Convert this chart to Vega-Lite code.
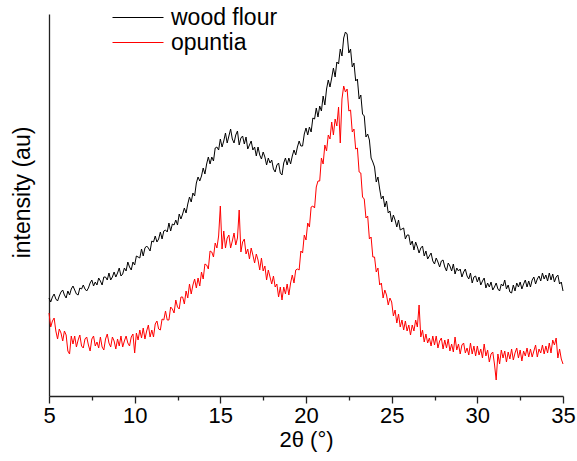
{
"$schema": "https://vega.github.io/schema/vega-lite/v6.json",
"width": 514, "height": 382,
"autosize": {"type": "none"},
"padding": {"left": 49, "top": 14, "right": 14, "bottom": 65},
"background": "white",
"config": {"view": {"stroke": null}, "font": "Liberation Sans"},
"data": {"values": [
{"t":5.0,"wood flour":98,"opuntia":83},{"t":5.1,"wood flour":94,"opuntia":69},{"t":5.2,"wood flour":99,"opuntia":75},{"t":5.3,"wood flour":102,"opuntia":78},{"t":5.4,"wood flour":97,"opuntia":65},{"t":5.5,"wood flour":95,"opuntia":57},{"t":5.6,"wood flour":100,"opuntia":67},{"t":5.7,"wood flour":104,"opuntia":63},{"t":5.8,"wood flour":106,"opuntia":55},{"t":5.9,"wood flour":101,"opuntia":65},
{"t":6.0,"wood flour":98,"opuntia":61},{"t":6.1,"wood flour":105,"opuntia":45},{"t":6.2,"wood flour":101,"opuntia":42},{"t":6.3,"wood flour":107,"opuntia":60},{"t":6.4,"wood flour":110,"opuntia":52},{"t":6.5,"wood flour":106,"opuntia":60},{"t":6.6,"wood flour":102,"opuntia":49},{"t":6.7,"wood flour":101,"opuntia":56},{"t":6.8,"wood flour":108,"opuntia":61},{"t":6.9,"wood flour":107,"opuntia":50},
{"t":7.0,"wood flour":111,"opuntia":48},{"t":7.1,"wood flour":107,"opuntia":57},{"t":7.2,"wood flour":105,"opuntia":59},{"t":7.3,"wood flour":108,"opuntia":51},{"t":7.4,"wood flour":113,"opuntia":45},{"t":7.5,"wood flour":116,"opuntia":57},{"t":7.6,"wood flour":110,"opuntia":60},{"t":7.7,"wood flour":114,"opuntia":50},{"t":7.8,"wood flour":111,"opuntia":54},{"t":7.9,"wood flour":118,"opuntia":48},
{"t":8.0,"wood flour":115,"opuntia":59},{"t":8.1,"wood flour":111,"opuntia":49},{"t":8.2,"wood flour":119,"opuntia":46},{"t":8.3,"wood flour":119,"opuntia":57},{"t":8.4,"wood flour":116,"opuntia":62},{"t":8.5,"wood flour":123,"opuntia":53},{"t":8.6,"wood flour":116,"opuntia":49},{"t":8.7,"wood flour":119,"opuntia":59},{"t":8.8,"wood flour":124,"opuntia":55},{"t":8.9,"wood flour":119,"opuntia":47},
{"t":9.0,"wood flour":123,"opuntia":57},{"t":9.1,"wood flour":128,"opuntia":50},{"t":9.2,"wood flour":120,"opuntia":60},{"t":9.3,"wood flour":122,"opuntia":49},{"t":9.4,"wood flour":128,"opuntia":55},{"t":9.5,"wood flour":125,"opuntia":60},{"t":9.6,"wood flour":134,"opuntia":53},{"t":9.7,"wood flour":129,"opuntia":50},{"t":9.8,"wood flour":126,"opuntia":59},{"t":9.9,"wood flour":134,"opuntia":62},
{"t":10.0,"wood flour":131,"opuntia":43},{"t":10.1,"wood flour":140,"opuntia":63},{"t":10.2,"wood flour":139,"opuntia":56},{"t":10.3,"wood flour":138,"opuntia":66},{"t":10.4,"wood flour":147,"opuntia":58},{"t":10.5,"wood flour":140,"opuntia":68},{"t":10.6,"wood flour":148,"opuntia":57},{"t":10.7,"wood flour":150,"opuntia":65},{"t":10.8,"wood flour":148,"opuntia":71},{"t":10.9,"wood flour":145,"opuntia":59},
{"t":11.0,"wood flour":155,"opuntia":66},{"t":11.1,"wood flour":154,"opuntia":59},{"t":11.2,"wood flour":160,"opuntia":72},{"t":11.3,"wood flour":154,"opuntia":75},{"t":11.4,"wood flour":157,"opuntia":67},{"t":11.5,"wood flour":164,"opuntia":66},{"t":11.6,"wood flour":157,"opuntia":77},{"t":11.7,"wood flour":165,"opuntia":76},{"t":11.8,"wood flour":166,"opuntia":85},{"t":11.9,"wood flour":164,"opuntia":76},
{"t":12.0,"wood flour":173,"opuntia":76},{"t":12.1,"wood flour":165,"opuntia":89},{"t":12.2,"wood flour":172,"opuntia":87},{"t":12.3,"wood flour":171,"opuntia":83},{"t":12.4,"wood flour":176,"opuntia":96},{"t":12.5,"wood flour":171,"opuntia":89},{"t":12.6,"wood flour":182,"opuntia":87},{"t":12.7,"wood flour":177,"opuntia":99},{"t":12.8,"wood flour":182,"opuntia":99},{"t":12.9,"wood flour":188,"opuntia":92},
{"t":13.0,"wood flour":183,"opuntia":105},{"t":13.1,"wood flour":192,"opuntia":98},{"t":13.2,"wood flour":199,"opuntia":112},{"t":13.3,"wood flour":194,"opuntia":102},{"t":13.4,"wood flour":203,"opuntia":111},{"t":13.5,"wood flour":200,"opuntia":117},{"t":13.6,"wood flour":213,"opuntia":108},{"t":13.7,"wood flour":219,"opuntia":118},{"t":13.8,"wood flour":215,"opuntia":110},{"t":13.9,"wood flour":220,"opuntia":124},
{"t":14.0,"wood flour":228,"opuntia":117},{"t":14.1,"wood flour":222,"opuntia":132},{"t":14.2,"wood flour":232,"opuntia":131},{"t":14.3,"wood flour":239,"opuntia":127},{"t":14.4,"wood flour":232,"opuntia":145},{"t":14.5,"wood flour":239,"opuntia":144},{"t":14.6,"wood flour":235,"opuntia":139},{"t":14.7,"wood flour":248,"opuntia":153},{"t":14.8,"wood flour":249,"opuntia":148},{"t":14.9,"wood flour":246,"opuntia":160},
{"t":15.0,"wood flour":257,"opuntia":190},{"t":15.1,"wood flour":249,"opuntia":147},{"t":15.2,"wood flour":255,"opuntia":165},{"t":15.3,"wood flour":263,"opuntia":148},{"t":15.4,"wood flour":253,"opuntia":158},{"t":15.5,"wood flour":260,"opuntia":161},{"t":15.6,"wood flour":267,"opuntia":148},{"t":15.7,"wood flour":257,"opuntia":155},{"t":15.8,"wood flour":253,"opuntia":163},{"t":15.9,"wood flour":261,"opuntia":151},
{"t":16.0,"wood flour":265,"opuntia":158},{"t":16.1,"wood flour":251,"opuntia":186},{"t":16.2,"wood flour":258,"opuntia":144},{"t":16.3,"wood flour":260,"opuntia":154},{"t":16.4,"wood flour":252,"opuntia":157},{"t":16.5,"wood flour":259,"opuntia":142},{"t":16.6,"wood flour":247,"opuntia":147},{"t":16.7,"wood flour":251,"opuntia":137},{"t":16.8,"wood flour":255,"opuntia":148},{"t":16.9,"wood flour":246,"opuntia":141},
{"t":17.0,"wood flour":249,"opuntia":133},{"t":17.1,"wood flour":240,"opuntia":142},{"t":17.2,"wood flour":249,"opuntia":136},{"t":17.3,"wood flour":241,"opuntia":126},{"t":17.4,"wood flour":237,"opuntia":138},{"t":17.5,"wood flour":244,"opuntia":125},{"t":17.6,"wood flour":239,"opuntia":130},{"t":17.7,"wood flour":231,"opuntia":116},{"t":17.8,"wood flour":238,"opuntia":126},{"t":17.9,"wood flour":233,"opuntia":119},
{"t":18.0,"wood flour":236,"opuntia":112},{"t":18.1,"wood flour":227,"opuntia":120},{"t":18.2,"wood flour":224,"opuntia":109},{"t":18.3,"wood flour":231,"opuntia":112},{"t":18.4,"wood flour":233,"opuntia":99},{"t":18.5,"wood flour":223,"opuntia":109},{"t":18.6,"wood flour":221,"opuntia":96},{"t":18.7,"wood flour":233,"opuntia":109},{"t":18.8,"wood flour":238,"opuntia":102},{"t":18.9,"wood flour":231,"opuntia":112},
{"t":19.0,"wood flour":238,"opuntia":101},{"t":19.1,"wood flour":232,"opuntia":113},{"t":19.2,"wood flour":240,"opuntia":121},{"t":19.3,"wood flour":246,"opuntia":113},{"t":19.4,"wood flour":241,"opuntia":126},{"t":19.5,"wood flour":249,"opuntia":127},{"t":19.6,"wood flour":255,"opuntia":126},{"t":19.7,"wood flour":250,"opuntia":145},{"t":19.8,"wood flour":250,"opuntia":143},{"t":19.9,"wood flour":262,"opuntia":161},
{"t":20.0,"wood flour":268,"opuntia":156},{"t":20.1,"wood flour":261,"opuntia":173},{"t":20.2,"wood flour":269,"opuntia":169},{"t":20.3,"wood flour":264,"opuntia":189},{"t":20.4,"wood flour":278,"opuntia":190},{"t":20.5,"wood flour":277,"opuntia":188},{"t":20.6,"wood flour":288,"opuntia":209},{"t":20.7,"wood flour":279,"opuntia":215},{"t":20.8,"wood flour":290,"opuntia":215},{"t":20.9,"wood flour":285,"opuntia":238},
{"t":21.0,"wood flour":300,"opuntia":232},{"t":21.1,"wood flour":291,"opuntia":251},{"t":21.2,"wood flour":307,"opuntia":245},{"t":21.3,"wood flour":316,"opuntia":261},{"t":21.4,"wood flour":309,"opuntia":257},{"t":21.5,"wood flour":318,"opuntia":274},{"t":21.6,"wood flour":328,"opuntia":261},{"t":21.7,"wood flour":319,"opuntia":277},{"t":21.8,"wood flour":334,"opuntia":270},{"t":21.9,"wood flour":332,"opuntia":289},
{"t":22.0,"wood flour":347,"opuntia":253},{"t":22.1,"wood flour":340,"opuntia":297},{"t":22.2,"wood flour":358,"opuntia":310},{"t":22.3,"wood flour":364,"opuntia":304},{"t":22.4,"wood flour":362,"opuntia":307},{"t":22.5,"wood flour":343,"opuntia":285},{"t":22.6,"wood flour":347,"opuntia":286},{"t":22.7,"wood flour":329,"opuntia":264},{"t":22.8,"wood flour":333,"opuntia":267},{"t":22.9,"wood flour":315,"opuntia":247},
{"t":23.0,"wood flour":317,"opuntia":248},{"t":23.1,"wood flour":297,"opuntia":224},{"t":23.2,"wood flour":301,"opuntia":223},{"t":23.3,"wood flour":282,"opuntia":199},{"t":23.4,"wood flour":280,"opuntia":197},{"t":23.5,"wood flour":259,"opuntia":178},{"t":23.6,"wood flour":262,"opuntia":180},{"t":23.7,"wood flour":256,"opuntia":157},{"t":23.8,"wood flour":238,"opuntia":159},{"t":23.9,"wood flour":234,"opuntia":139},
{"t":24.0,"wood flour":229,"opuntia":139},{"t":24.1,"wood flour":214,"opuntia":124},{"t":24.2,"wood flour":219,"opuntia":128},{"t":24.3,"wood flour":207,"opuntia":111},{"t":24.4,"wood flour":197,"opuntia":113},{"t":24.5,"wood flour":200,"opuntia":98},{"t":24.6,"wood flour":189,"opuntia":106},{"t":24.7,"wood flour":195,"opuntia":101},{"t":24.8,"wood flour":183,"opuntia":91},{"t":24.9,"wood flour":185,"opuntia":98},
{"t":25.0,"wood flour":174,"opuntia":94},{"t":25.1,"wood flour":181,"opuntia":80},{"t":25.2,"wood flour":176,"opuntia":86},{"t":25.3,"wood flour":169,"opuntia":73},{"t":25.4,"wood flour":176,"opuntia":82},{"t":25.5,"wood flour":166,"opuntia":69},{"t":25.6,"wood flour":167,"opuntia":76},{"t":25.7,"wood flour":168,"opuntia":66},{"t":25.8,"wood flour":157,"opuntia":75},{"t":25.9,"wood flour":161,"opuntia":65},
{"t":26.0,"wood flour":161,"opuntia":71},{"t":26.1,"wood flour":151,"opuntia":61},{"t":26.2,"wood flour":155,"opuntia":71},{"t":26.3,"wood flour":146,"opuntia":65},{"t":26.4,"wood flour":154,"opuntia":76},{"t":26.5,"wood flour":149,"opuntia":69},{"t":26.6,"wood flour":143,"opuntia":91},{"t":26.7,"wood flour":148,"opuntia":59},{"t":26.8,"wood flour":150,"opuntia":66},{"t":26.9,"wood flour":140,"opuntia":54},
{"t":27.0,"wood flour":145,"opuntia":62},{"t":27.1,"wood flour":137,"opuntia":53},{"t":27.2,"wood flour":140,"opuntia":58},{"t":27.3,"wood flour":143,"opuntia":50},{"t":27.4,"wood flour":135,"opuntia":60},{"t":27.5,"wood flour":132,"opuntia":51},{"t":27.6,"wood flour":138,"opuntia":60},{"t":27.7,"wood flour":134,"opuntia":48},{"t":27.8,"wood flour":129,"opuntia":55},{"t":27.9,"wood flour":135,"opuntia":58},
{"t":28.0,"wood flour":136,"opuntia":47},{"t":28.1,"wood flour":129,"opuntia":56},{"t":28.2,"wood flour":125,"opuntia":48},{"t":28.3,"wood flour":133,"opuntia":57},{"t":28.4,"wood flour":130,"opuntia":45},{"t":28.5,"wood flour":125,"opuntia":52},{"t":28.6,"wood flour":132,"opuntia":44},{"t":28.7,"wood flour":122,"opuntia":59},{"t":28.8,"wood flour":128,"opuntia":46},{"t":28.9,"wood flour":125,"opuntia":52},
{"t":29.0,"wood flour":127,"opuntia":42},{"t":29.1,"wood flour":119,"opuntia":51},{"t":29.2,"wood flour":124,"opuntia":53},{"t":29.3,"wood flour":127,"opuntia":43},{"t":29.4,"wood flour":120,"opuntia":48},{"t":29.5,"wood flour":117,"opuntia":41},{"t":29.6,"wood flour":123,"opuntia":53},{"t":29.7,"wood flour":113,"opuntia":42},{"t":29.8,"wood flour":119,"opuntia":50},{"t":29.9,"wood flour":120,"opuntia":40},
{"t":30.0,"wood flour":114,"opuntia":50},{"t":30.1,"wood flour":119,"opuntia":41},{"t":30.2,"wood flour":111,"opuntia":47},{"t":30.3,"wood flour":115,"opuntia":38},{"t":30.4,"wood flour":118,"opuntia":52},{"t":30.5,"wood flour":108,"opuntia":40},{"t":30.6,"wood flour":113,"opuntia":46},{"t":30.7,"wood flour":109,"opuntia":34},{"t":30.8,"wood flour":114,"opuntia":42},{"t":30.9,"wood flour":106,"opuntia":44},
{"t":31.0,"wood flour":109,"opuntia":32},{"t":31.1,"wood flour":113,"opuntia":16},{"t":31.2,"wood flour":107,"opuntia":42},{"t":31.3,"wood flour":105,"opuntia":32},{"t":31.4,"wood flour":112,"opuntia":46},{"t":31.5,"wood flour":110,"opuntia":38},{"t":31.6,"wood flour":116,"opuntia":45},{"t":31.7,"wood flour":107,"opuntia":34},{"t":31.8,"wood flour":111,"opuntia":44},{"t":31.9,"wood flour":104,"opuntia":37},
{"t":32.0,"wood flour":103,"opuntia":47},{"t":32.1,"wood flour":111,"opuntia":36},{"t":32.2,"wood flour":105,"opuntia":43},{"t":32.3,"wood flour":113,"opuntia":48},{"t":32.4,"wood flour":109,"opuntia":38},{"t":32.5,"wood flour":114,"opuntia":46},{"t":32.6,"wood flour":107,"opuntia":35},{"t":32.7,"wood flour":112,"opuntia":45},{"t":32.8,"wood flour":116,"opuntia":40},{"t":32.9,"wood flour":109,"opuntia":48},
{"t":33.0,"wood flour":115,"opuntia":39},{"t":33.1,"wood flour":109,"opuntia":47},{"t":33.2,"wood flour":116,"opuntia":39},{"t":33.3,"wood flour":119,"opuntia":45},{"t":33.4,"wood flour":112,"opuntia":51},{"t":33.5,"wood flour":117,"opuntia":39},{"t":33.6,"wood flour":120,"opuntia":47},{"t":33.7,"wood flour":115,"opuntia":43},{"t":33.8,"wood flour":123,"opuntia":51},{"t":33.9,"wood flour":117,"opuntia":42},
{"t":34.0,"wood flour":121,"opuntia":50},{"t":34.1,"wood flour":115,"opuntia":43},{"t":34.2,"wood flour":123,"opuntia":53},{"t":34.3,"wood flour":116,"opuntia":43},{"t":34.4,"wood flour":122,"opuntia":56},{"t":34.5,"wood flour":114,"opuntia":51},{"t":34.6,"wood flour":119,"opuntia":58},{"t":34.7,"wood flour":121,"opuntia":38},{"t":34.8,"wood flour":112,"opuntia":47},{"t":34.9,"wood flour":114,"opuntia":37},
{"t":35.0,"wood flour":105,"opuntia":32}
]},
"transform": [{"fold": ["wood flour", "opuntia"], "as": ["sample", "intensity"]}],
"mark": {"type": "line", "strokeWidth": 1},
"encoding": {
  "x": {"field": "t", "type": "quantitative",
    "scale": {"domain": [5, 35], "nice": false, "zero": false},
    "axis": {"title": "2θ (°)", "values": [5,7.5,10,12.5,15,17.5,20,22.5,25,27.5,30,32.5,35],
      "labelExpr": "datum.value % 5 === 0 ? datum.label : ''",
      "tickSize": {"condition": {"test": "datum.value % 5 === 0", "value": 7}, "value": 4},
      "grid": false, "domainColor": "#222222", "domainWidth": 1.3, "tickColor": "#222222", "tickWidth": 1.3,
      "labelColor": "black", "titleColor": "black", "labelFontSize": 22, "titleFontSize": 22,
      "titleFontWeight": "normal", "labelPadding": 2, "titlePadding": 3,
      "labelFont": "Liberation Sans", "titleFont": "Liberation Sans", "labelFlush": false, "labelOverlap": false}},
  "y": {"field": "intensity", "type": "quantitative",
    "scale": {"domain": [0, 382], "nice": false, "zero": false},
    "axis": {"title": "intensity (au)", "ticks": false, "labels": false, "grid": false,
      "domainColor": "#222222", "domainWidth": 1.3, "titleFontSize": 23, "titleFontWeight": "normal",
      "titleColor": "black", "titleFont": "Liberation Sans", "titlePadding": 15, "titleY": 178}},
  "color": {"field": "sample", "type": "nominal",
    "scale": {"domain": ["wood flour", "opuntia"], "range": ["#000000", "#ff0000"]},
    "legend": {"title": null, "orient": "none", "legendX": 63, "legendY": -9,
      "symbolType": "stroke", "symbolSize": 2601, "symbolStrokeWidth": 1,
      "labelFontSize": 23, "labelFont": "Liberation Sans", "labelColor": "black",
      "clipHeight": 25, "padding": 0, "rowPadding": 0, "labelOffset": 7}}
}
}
